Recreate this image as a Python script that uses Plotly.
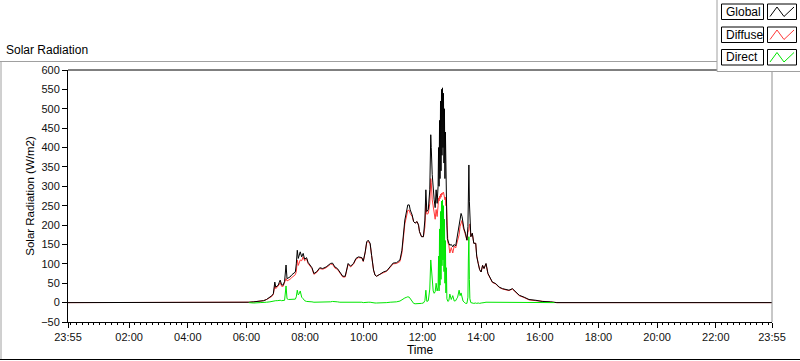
import pandas as pd
import plotly.graph_objects as go

# ---------------- data (minutes after midnight; -5 = 23:55 of previous day) ----------------
minutes = [
    -5, 360, 365, 375, 388, 395, 401, 408, 412, 415, 417, 418, 420, 423, 425, 427, 429, 432, 435, 438,
    441, 443, 446, 449, 453, 456, 460, 462, 464, 466, 468, 470, 473, 476, 479, 483, 486, 490, 494, 498,
    504, 510, 516, 523, 528, 532, 536,
    541, 546, 551, 557, 562, 565, 568, 573, 579, 584, 589, 596, 599, 603, 606, 609, 613, 616, 620, 623,
    626, 633, 640, 647, 654, 660, 667, 674, 678, 681, 684, 688, 690, 693, 695, 699, 702, 705, 709, 712, 714,
    718, 722, 725, 727, 729, 732, 735, 737, 738, 740, 742, 744, 746, 748, 750, 752,
    753, 754, 755, 756, 757, 758, 759, 760, 761, 762, 763, 764, 765, 766, 767, 768, 769, 770, 771, 772,
    774, 776, 779, 782, 785, 788, 790, 792, 795, 797, 799, 801, 803, 805, 808, 811, 813, 814, 815, 816,
    817, 819, 822, 825, 829, 831, 834, 837, 840, 843, 846, 850, 854, 858, 863, 870, 877, 884, 891, 897,
    904, 911, 918, 928, 938, 952, 965, 982, 990, 995, 1435,
]

global_wm2 = [
    0, 0, 1, 2, 4, 5, 8, 14, 18, 23, 40, 53, 40, 44, 45, 52, 58, 46, 45, 55,
    97, 62, 64, 66, 72, 75, 79, 100, 135, 114, 125, 131, 118, 127, 112, 116, 104, 97, 90, 75,
    80, 90, 88, 92, 97, 101, 102,
    92, 88, 79, 68, 68, 88, 101, 94, 101, 114, 118, 116, 107, 131, 157, 161, 153, 122, 84, 71,
    68, 73, 79, 82, 92, 102, 103, 110, 135, 174, 213, 239, 252, 252, 239, 226, 209, 205, 209, 200, 183,
    170, 170, 213, 291, 235, 240, 291, 433, 400, 330, 282, 265, 245, 291, 256, 300,
    400, 300, 470, 320, 520, 340, 550, 380, 554, 400, 540, 360, 500, 320, 440, 280, 360, 200, 165, 158,
    153, 148, 150, 144, 150, 146, 161, 175, 205, 215, 230, 222, 200, 190, 179, 161, 196, 300, 355, 260,
    213, 170, 179, 153, 153, 120, 101, 85, 79, 96, 88, 101, 75, 66, 53, 49, 40, 36, 33, 32,
    36, 27, 19, 14, 8, 6, 3, 2, 1, 0, 0,
]

diffuse_wm2 = [
    0, 0, 1, 2, 4, 5, 8, 13, 16, 21, 35, 44, 36, 40, 42, 46, 52, 42, 42, 50,
    62, 56, 58, 60, 65, 68, 72, 80, 110, 96, 102, 110, 108, 118, 108, 113, 101, 94, 88, 73,
    78, 88, 86, 90, 95, 99, 99,
    89, 86, 77, 66, 66, 86, 99, 92, 99, 112, 116, 115, 106, 130, 155, 158, 151, 121, 84, 71,
    68, 73, 78, 81, 91, 100, 101, 106, 128, 165, 203, 226, 238, 238, 230, 222, 209, 205, 209, 200, 183,
    171, 170, 195, 255, 228, 230, 255, 320, 310, 265, 250, 235, 215, 240, 222, 250,
    270, 262, 275, 268, 280, 272, 282, 278, 283, 282, 285, 275, 280, 265, 272, 250, 262, 190, 160, 155,
    148, 128, 142, 128, 146, 141, 151, 161, 175, 197, 205, 212, 196, 188, 179, 161, 182, 185, 187, 200,
    203, 170, 179, 153, 153, 120, 101, 85, 79, 96, 88, 100, 74, 65, 52, 48, 39, 35, 32, 31,
    35, 26, 18, 13, 7, 5, 3, 2, 1, 0, 0,
]

direct_wm2 = [
    None, None, 0, -1, 0, 0, 1, 2, 3, 4, 5, 6, 5, 5, 6, 6, 6, 5, 5, 6,
    43, 10, 8, 8, 8, 8, 9, 15, 32, 20, 23, 30, 14, 10, 5, 3, 3, 2, 2, 1,
    1, 2, 2, 2, 2, 2, 3,
    3, 2, 1, 1, 1, 2, 2, 2, 2, 2, 1, 1, 0, 1, 1, 1, 1, 0, 0, -1,
    -1, -1, 0, 0, 1, 1, 2, 4, 8, 10, 12, 14, 15, 14, 10, 4, -2, -3, -3, -2, -2,
    -2, -1, 5, 32, 3, 5, 35, 110, 90, 58, 30, 24, 28, 50, 30, 40,
    120, 30, 190, 45, 235, 60, 262, 95, 265, 110, 250, 80, 215, 50, 160, 25, 90, 10, 4, 3,
    5, 22, 8, 18, 4, 5, 10, 14, 32, 18, 25, 10, 4, 2, -2, -2, 14, 115, 170, 60,
    10, 0, -2, -2, -1, -2, -1, -2, -1, -1, 0, 1, 1, 1, 1, 1, 1, 1, 1, 1,
    1, 1, 1, 1, 1, 1, 0, 0, 0, None, None,
]

tick_minutes = [-5, 120, 240, 360, 480, 600, 720, 840, 960, 1080, 1200, 1320, 1435]
tick_labels = ["23:55", "02:00", "04:00", "06:00", "08:00", "10:00", "12:00",
               "14:00", "16:00", "18:00", "20:00", "22:00", "23:55"]

series_names = ["Global", "Diffuse", "Direct"]
series_colors = ["#000000", "#ff3838", "#00e600"]

assert len(minutes) == len(global_wm2) == len(diffuse_wm2) == len(direct_wm2)

# ---------------- build ----------------
base = pd.Timestamp("2020-01-01 00:00")
t = [base + pd.Timedelta(minutes=m) for m in minutes]
tick_dt = [base + pd.Timedelta(minutes=m) for m in tick_minutes]

W, H = 800, 361
ML, MR, MT, MB = 68, 28, 70, 39
PW, PH = W - ML - MR, H - MT - MB


def px(x):
    return (x - ML) / PW


def py(y):
    return (H - MB - y) / PH


FONT = "Liberation Sans"

fig = go.Figure()
fig.add_trace(go.Scatter(x=t, y=diffuse_wm2, mode="lines", name=series_names[1],
                         line=dict(color=series_colors[1], width=1), connectgaps=False))
fig.add_trace(go.Scatter(x=t, y=global_wm2, mode="lines", name=series_names[0],
                         line=dict(color=series_colors[0], width=1)))
fig.add_trace(go.Scatter(x=t, y=direct_wm2, mode="lines", name=series_names[2],
                         line=dict(color=series_colors[2], width=1), connectgaps=False))

fig.update_xaxes(
    type="date",
    range=[tick_dt[0], tick_dt[-1]],
    tickmode="array", tickvals=tick_dt, ticktext=tick_labels,
    ticks="outside", ticklen=5, tickcolor="#000000",
    minor=dict(tickmode="linear", tick0=base, dtick=12 * 60 * 1000,
               ticks="outside", ticklen=2, tickcolor="#000000", showgrid=False),
    showline=True, linecolor="#000000", linewidth=1,
    showgrid=False, zeroline=False,
    tickfont=dict(family=FONT, size=11, color="#111111"),
    title=dict(text="Time", font=dict(family=FONT, size=12, color="#000000"), standoff=2),
    automargin=False,
)
fig.update_yaxes(
    range=[-50, 600], tickmode="linear", tick0=0, dtick=50,
    ticks="outside", ticklen=5, tickcolor="#000000",
    showline=True, linecolor="#000000", linewidth=1,
    showgrid=False, zeroline=False,
    tickfont=dict(family=FONT, size=11, color="#111111"),
    title=dict(text="Solar Radiation (W/m2)", font=dict(family=FONT, size=11.5, color="#000000"),
               standoff=4),
    automargin=False,
)

shapes = []
# outer frame
shapes.append(dict(type="line", xref="paper", yref="paper", x0=px(0), x1=px(717), y0=py(61.5), y1=py(61.5),
                   line=dict(color="#a0a0a0", width=1)))
shapes.append(dict(type="line", xref="paper", yref="paper", x0=px(1), x1=px(1), y0=py(61.5), y1=py(359.5),
                   line=dict(color="#a0a0a0", width=1)))
shapes.append(dict(type="line", xref="paper", yref="paper", x0=px(0), x1=px(800), y0=py(359.5), y1=py(359.5),
                   line=dict(color="#000000", width=1)))
# plot frame top (black) and right (gray)
shapes.append(dict(type="line", xref="paper", yref="paper", x0=0, x1=1, y0=1, y1=1,
                   line=dict(color="#000000", width=1)))
shapes.append(dict(type="line", xref="paper", yref="paper", x0=1, x1=1, y0=0, y1=1,
                   line=dict(color="#909090", width=1)))
# legend panel
shapes.append(dict(type="rect", xref="paper", yref="paper", x0=px(717), x1=px(802), y0=py(71.5), y1=py(-2),
                   line=dict(color="#a0a0a0", width=1), fillcolor="#ffffff"))

annotations = [dict(text="Solar Radiation", xref="paper", yref="paper", x=px(4), y=py(50),
                    xanchor="left", yanchor="middle", showarrow=False,
                    font=dict(family=FONT, size=12, color="#000000"))]

rows = [(4, 19.5), (27, 42.5), (49.5, 65)]
for name, color, (top, bot) in zip(series_names, series_colors, rows):
    shapes.append(dict(type="rect", xref="paper", yref="paper", x0=px(721.5), x1=px(763.5),
                       y0=py(bot), y1=py(top), line=dict(color="#000000", width=1), fillcolor="#ffffff"))
    shapes.append(dict(type="rect", xref="paper", yref="paper", x0=px(767.5), x1=px(796.5),
                       y0=py(bot), y1=py(top), line=dict(color="#000000", width=1), fillcolor="#ffffff"))
    pts = [(770, bot - 3), (777, top + 3), (784, bot - 3), (794, top + 3)]
    path = "M " + " L ".join(f"{px(a):.5f},{py(b):.5f}" for a, b in pts)
    shapes.append(dict(type="path", xref="paper", yref="paper", path=path,
                       line=dict(color=color, width=1)))
    annotations.append(dict(text=name, xref="paper", yref="paper", x=px(723.5), y=py((top + bot) / 2),
                            xanchor="left", yanchor="middle", showarrow=False,
                            font=dict(family=FONT, size=12, color="#000000")))

fig.update_layout(
    width=W, height=H,
    margin=dict(l=ML, r=MR, t=MT, b=MB, pad=0),
    paper_bgcolor="#ffffff", plot_bgcolor="#ffffff",
    showlegend=False,
    shapes=shapes, annotations=annotations,
)

fig.write_html("out.html", config={"displayModeBar": False},
               post_script="document.body.style.margin='0';document.body.style.overflow='hidden';")
